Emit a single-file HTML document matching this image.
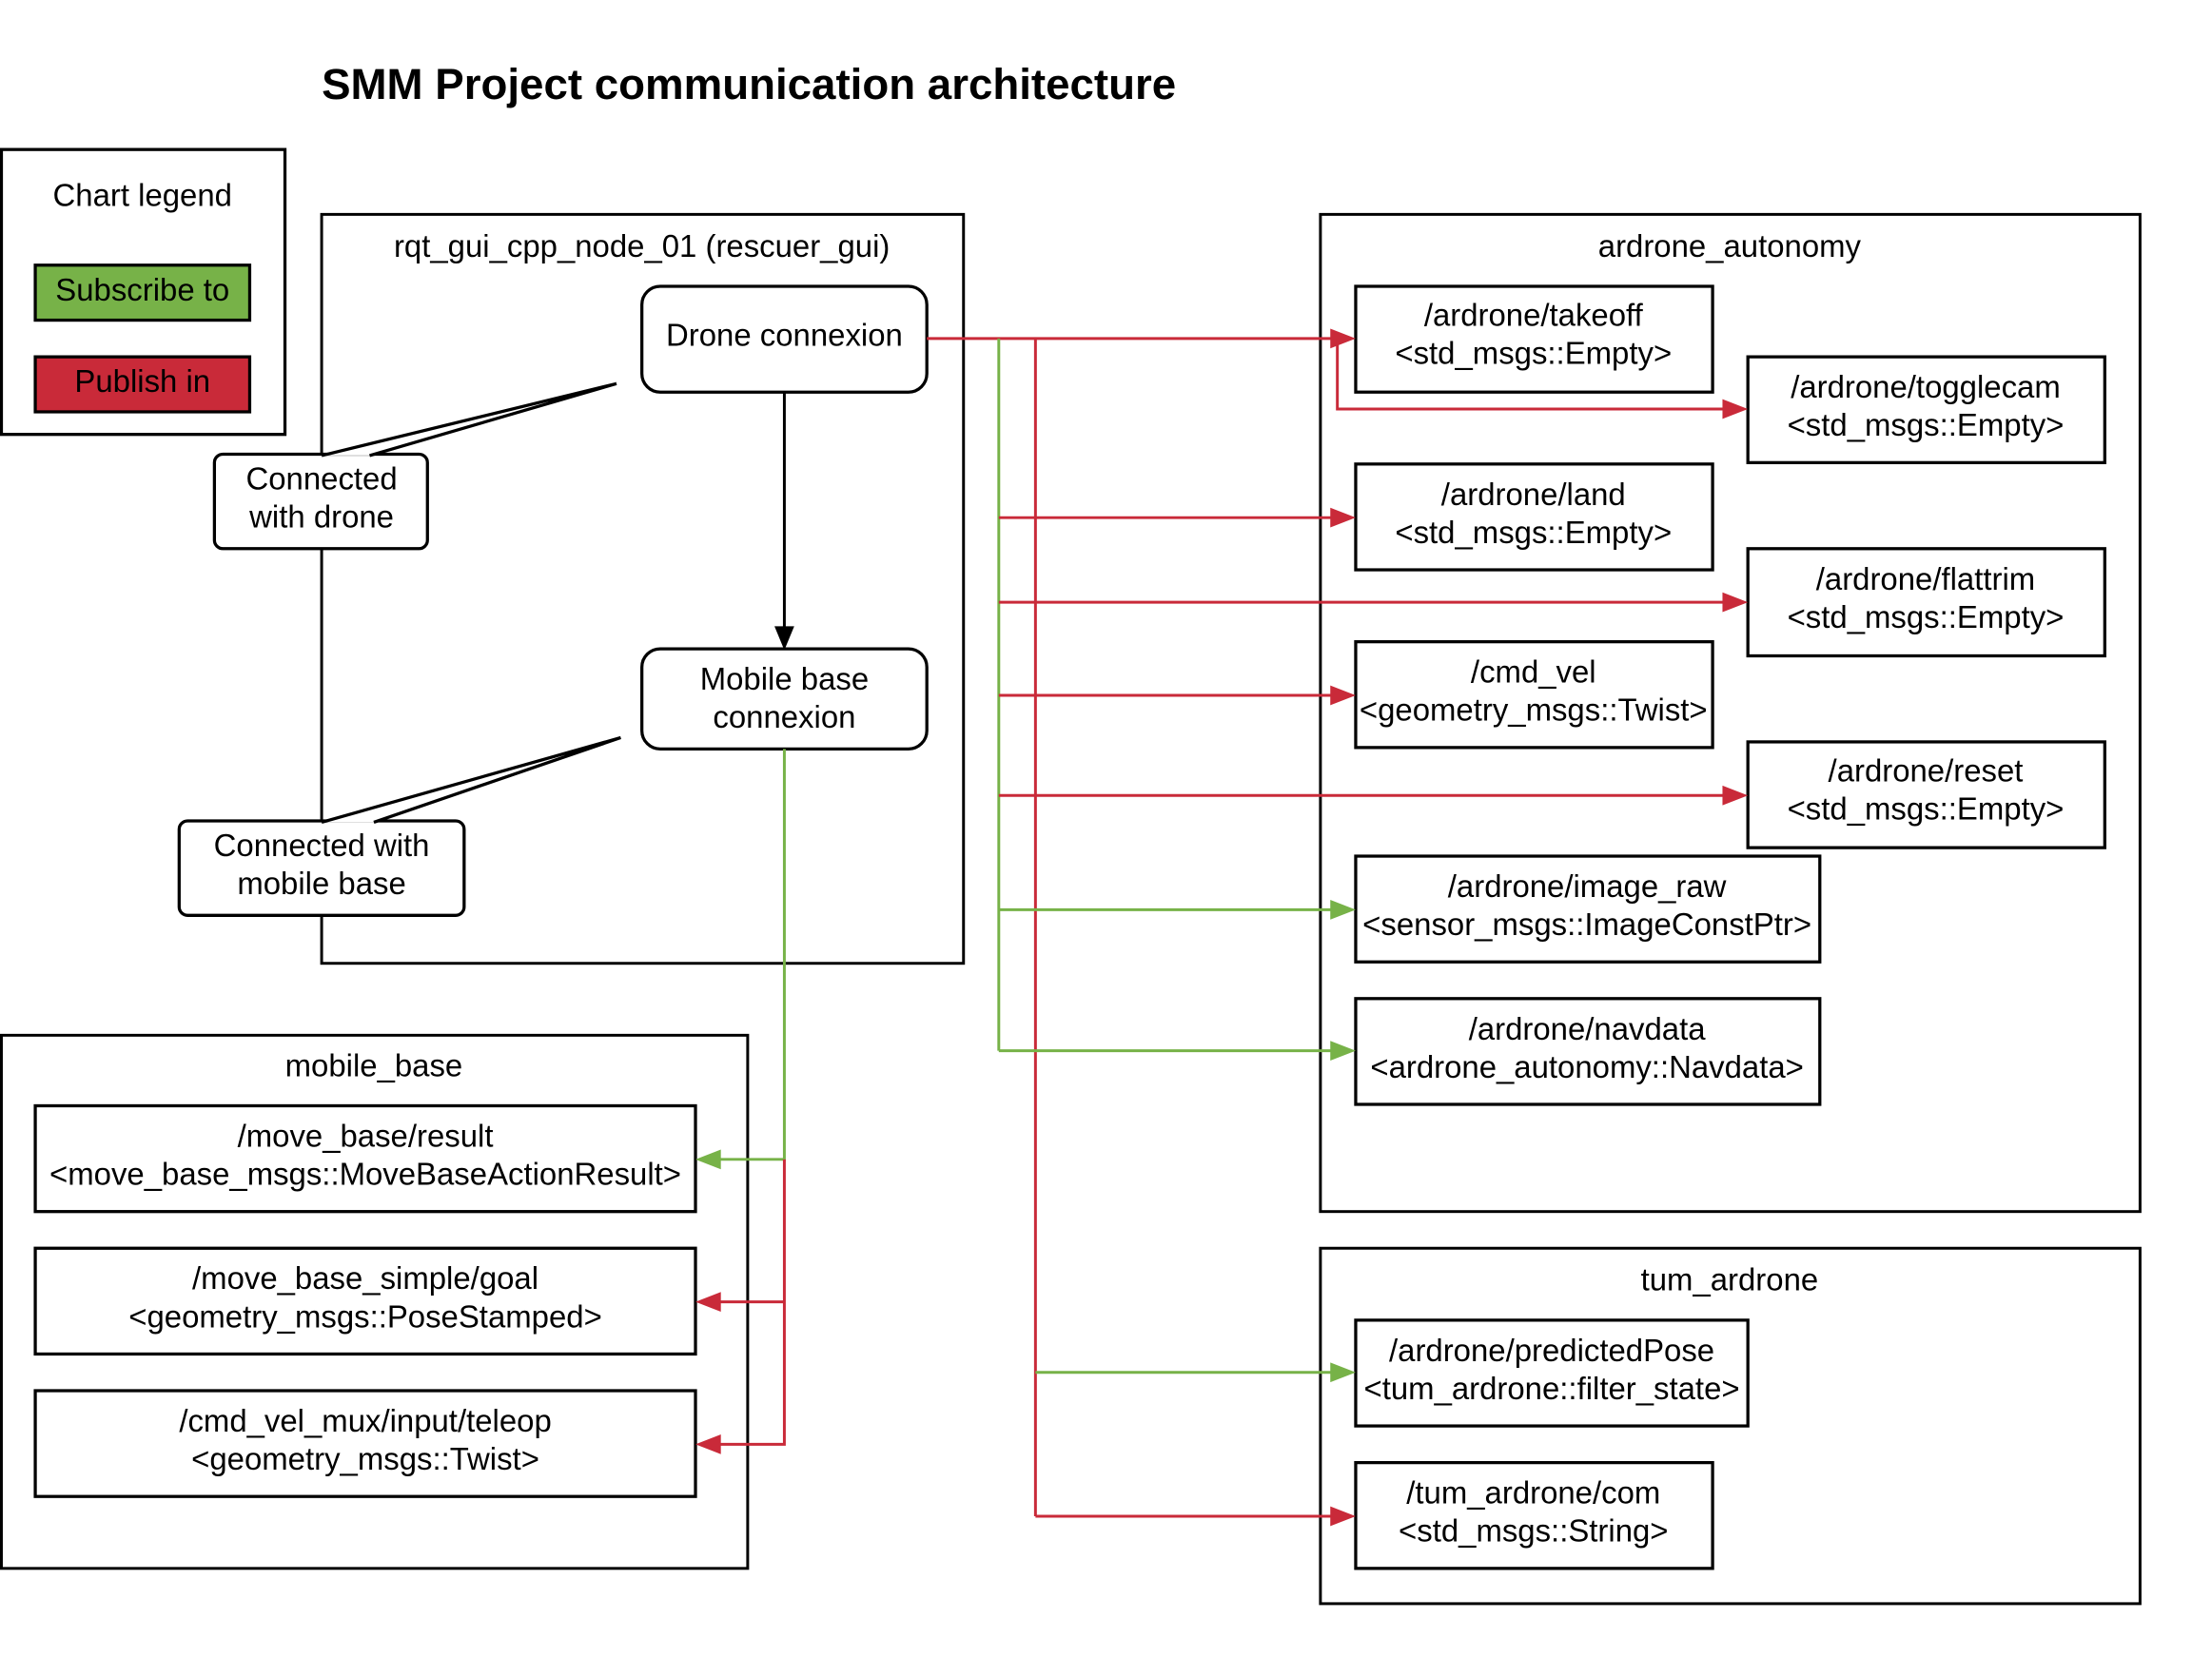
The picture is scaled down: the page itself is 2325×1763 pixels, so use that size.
<!DOCTYPE html>
<html><head><meta charset="utf-8"><style>html,body{margin:0;padding:0;background:#fff}svg{display:block}</style></head>
<body>
<svg width="2325" height="1763" viewBox="0 0 1568 1189" preserveAspectRatio="none" xmlns="http://www.w3.org/2000/svg" font-family="Liberation Sans, sans-serif">
<style>
.b{fill:#fff;stroke:#000;stroke-width:2.2}
.t{font-size:22.2px;text-anchor:middle;fill:#000}
.r{stroke:#c92a39;stroke-width:2;fill:none}
.g{stroke:#77b248;stroke-width:2;fill:none}
</style>
<text x="228" y="70" font-size="30.8" font-weight="bold">SMM Project communication architecture</text>
<!-- legend -->
<rect class="b" x="1" y="106" width="201" height="202"/>
<text class="t" x="101" y="146">Chart legend</text>
<rect x="25" y="188" width="152" height="39" fill="#77b248" stroke="#000" stroke-width="2.2"/>
<text class="t" x="101" y="213">Subscribe to</text>
<rect x="25" y="253" width="152" height="39" fill="#c92a39" stroke="#000" stroke-width="2.2"/>
<text class="t" x="101" y="278">Publish in</text>
<!-- rqt -->
<rect x="228" y="152" width="455" height="531" fill="none" stroke="#000" stroke-width="2"/>
<text class="t" x="455" y="182">rqt_gui_cpp_node_01 (rescuer_gui)</text>
<rect class="b" x="455" y="203" width="202" height="75" rx="13"/>
<text class="t" x="556" y="245">Drone connexion</text>
<rect class="b" x="455" y="460" width="202" height="71" rx="13"/>
<text class="t" x="556" y="489">Mobile base</text>
<text class="t" x="556" y="516">connexion</text>
<line x1="556" y1="278" x2="556" y2="446" stroke="#000" stroke-width="2"/>
<path d="M549,444 L563,444 L556,461 z" fill="#000"/>
<!-- callouts -->
<rect class="b" x="152" y="322" width="151" height="67" rx="6"/>
<path d="M228,323 L437,272 L262,323" fill="#fff" stroke="#000" stroke-width="2.2"/>
<text class="t" x="228" y="347">Connected</text>
<text class="t" x="228" y="374">with drone</text>
<rect class="b" x="127" y="582" width="202" height="67" rx="6"/>
<path d="M228,583 L440,523 L265,583" fill="#fff" stroke="#000" stroke-width="2.2"/>
<text class="t" x="228" y="607">Connected with</text>
<text class="t" x="228" y="634">mobile base</text>
<!-- ardrone_autonomy -->
<rect x="936" y="152" width="581" height="707" fill="none" stroke="#000" stroke-width="2"/>
<text class="t" x="1226" y="182">ardrone_autonomy</text>
<rect class="b" x="961" y="203" width="253" height="75"/>
<text class="t" x="1087" y="231">/ardrone/takeoff</text><text class="t" x="1087" y="258">&lt;std_msgs::Empty&gt;</text>
<rect class="b" x="1239" y="253" width="253" height="75"/>
<text class="t" x="1365" y="282">/ardrone/togglecam</text><text class="t" x="1365" y="309">&lt;std_msgs::Empty&gt;</text>
<rect class="b" x="961" y="329" width="253" height="75"/>
<text class="t" x="1087" y="358">/ardrone/land</text><text class="t" x="1087" y="385">&lt;std_msgs::Empty&gt;</text>
<rect class="b" x="1239" y="389" width="253" height="76"/>
<text class="t" x="1365" y="418">/ardrone/flattrim</text><text class="t" x="1365" y="445">&lt;std_msgs::Empty&gt;</text>
<rect class="b" x="961" y="455" width="253" height="75"/>
<text class="t" x="1087" y="484">/cmd_vel</text><text class="t" x="1087" y="511">&lt;geometry_msgs::Twist&gt;</text>
<rect class="b" x="1239" y="526" width="253" height="75"/>
<text class="t" x="1365" y="554">/ardrone/reset</text><text class="t" x="1365" y="581">&lt;std_msgs::Empty&gt;</text>
<rect class="b" x="961" y="607" width="329" height="75"/>
<text class="t" x="1125" y="636">/ardrone/image_raw</text><text class="t" x="1125" y="663">&lt;sensor_msgs::ImageConstPtr&gt;</text>
<rect class="b" x="961" y="708" width="329" height="75"/>
<text class="t" x="1125" y="737">/ardrone/navdata</text><text class="t" x="1125" y="764">&lt;ardrone_autonomy::Navdata&gt;</text>
<!-- tum -->
<rect x="936" y="885" width="581" height="252" fill="none" stroke="#000" stroke-width="2"/>
<text class="t" x="1226" y="915">tum_ardrone</text>
<rect class="b" x="961" y="936" width="278" height="75"/>
<text class="t" x="1100" y="965">/ardrone/predictedPose</text><text class="t" x="1100" y="992">&lt;tum_ardrone::filter_state&gt;</text>
<rect class="b" x="961" y="1037" width="253" height="75"/>
<text class="t" x="1087" y="1066">/tum_ardrone/com</text><text class="t" x="1087" y="1093">&lt;std_msgs::String&gt;</text>
<!-- mobile_base -->
<rect x="1" y="734" width="529" height="378" fill="none" stroke="#000" stroke-width="2"/>
<text class="t" x="265" y="763">mobile_base</text>
<rect class="b" x="25" y="784" width="468" height="75"/>
<text class="t" x="259" y="813">/move_base/result</text><text class="t" x="259" y="840">&lt;move_base_msgs::MoveBaseActionResult&gt;</text>
<rect class="b" x="25" y="885" width="468" height="75"/>
<text class="t" x="259" y="914">/move_base_simple/goal</text><text class="t" x="259" y="941">&lt;geometry_msgs::PoseStamped&gt;</text>
<rect class="b" x="25" y="986" width="468" height="75"/>
<text class="t" x="259" y="1015">/cmd_vel_mux/input/teleop</text><text class="t" x="259" y="1042">&lt;geometry_msgs::Twist&gt;</text>
<!-- connectors -->
<path class="r" d="M657,240 H945"/><path d="M943,233 L961,240 L943,247 z" fill="#c92a39"/>
<path class="r" d="M948,240 V290 H1223"/><path d="M1221,283 L1239,290 L1221,297 z" fill="#c92a39"/>
<path class="g" d="M708,240 V745"/>
<path class="r" d="M734,240 V1075"/>
<path class="r" d="M708,367 H945"/><path d="M943,360 L961,367 L943,374 z" fill="#c92a39"/>
<path class="r" d="M708,427 H1223"/><path d="M1221,420 L1239,427 L1221,434 z" fill="#c92a39"/>
<path class="r" d="M708,493 H945"/><path d="M943,486 L961,493 L943,500 z" fill="#c92a39"/>
<path class="r" d="M708,564 H1223"/><path d="M1221,557 L1239,564 L1221,571 z" fill="#c92a39"/>
<path class="g" d="M708,645 H945"/><path d="M943,638 L961,645 L943,652 z" fill="#77b248"/>
<path class="g" d="M708,745 H945"/><path d="M943,738 L961,745 L943,752 z" fill="#77b248"/>
<path class="g" d="M734,973 H945"/><path d="M943,966 L961,973 L943,980 z" fill="#77b248"/>
<path class="r" d="M734,1075 H945"/><path d="M943,1068 L961,1075 L943,1082 z" fill="#c92a39"/>
<path class="g" d="M556,531 V822 H509"/><path d="M511,815 L493,822 L511,829 z" fill="#77b248"/>
<path class="r" d="M556,822 V1024 H509 M556,923 H509"/>
<path d="M511,916 L493,923 L511,930 z" fill="#c92a39"/>
<path d="M511,1017 L493,1024 L511,1031 z" fill="#c92a39"/>
</svg>
</body></html>
